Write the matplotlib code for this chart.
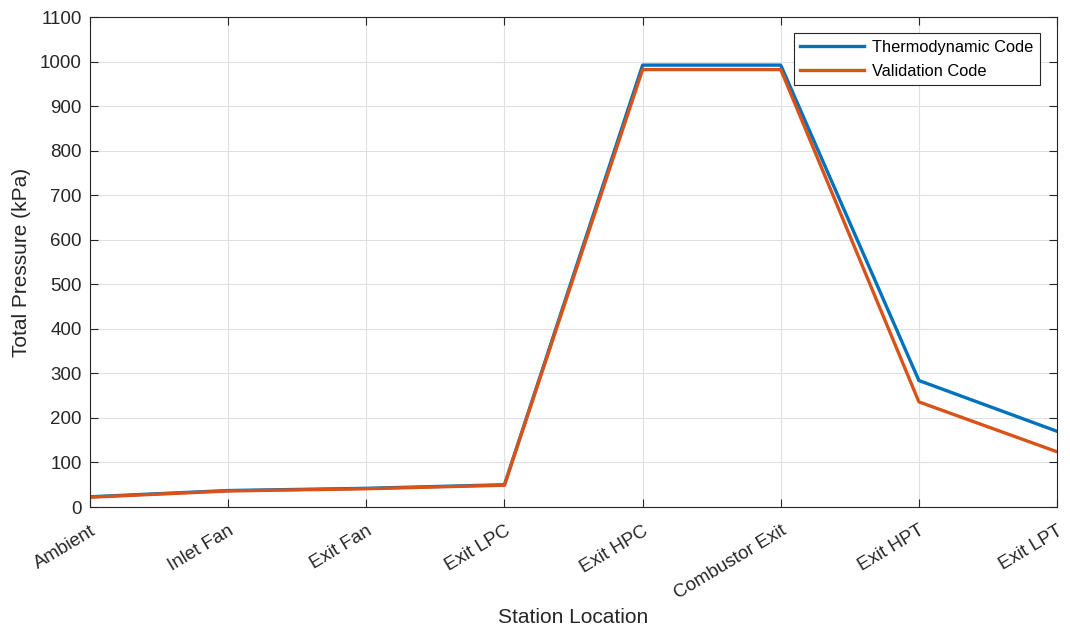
import matplotlib
matplotlib.use("Agg")
import matplotlib.pyplot as plt
import numpy as np

plt.rcParams['font.family'] = ['Liberation Sans', 'DejaVu Sans']

stations = ["Ambient", "Inlet Fan", "Exit Fan", "Exit LPC", "Exit HPC",
            "Combustor Exit", "Exit HPT", "Exit LPT"]
thermo = [23, 37, 42, 50, 992, 992, 284, 170]
valid = [22, 36, 41, 49, 982, 982, 236, 124]

fig = plt.figure(figsize=(10.7, 6.3), dpi=100)
ax = fig.add_axes([0.0841, 0.1952, 0.9038, 0.7778])

x = np.arange(len(stations))
ax.plot(x, thermo, color=(0, 0.447, 0.741), lw=2.4, label="Thermodynamic Code")
ax.plot(x, valid, color=(0.85, 0.325, 0.098), lw=2.4, label="Validation Code")

ax.set_xlim(0, len(stations) - 1)
ax.set_ylim(0, 1100)
ax.set_yticks(np.arange(0, 1101, 100))
ax.set_xticks(x)
ax.set_xticklabels(stations, rotation=31, ha='right', va='top',
                   rotation_mode='anchor', fontsize=13.5)
ax.tick_params(axis='y', labelsize=13.5, pad=6)
ax.tick_params(axis='x', pad=11)
ax.tick_params(direction='in', top=True, right=True, length=6, color='#262626', labelcolor='#262626')
ax.grid(True, color='#e0e0e0', lw=0.8)
ax.set_axisbelow(True)
for s in ax.spines.values():
    s.set_color('#262626')
    s.set_linewidth(0.8)

ax.set_xlabel("Station Location", fontsize=15, color='#262626', labelpad=4)
ax.set_ylabel("Total Pressure (kPa)", fontsize=15, color='#262626', labelpad=6)

leg = ax.legend(loc='upper right', bbox_to_anchor=(0.9825, 0.967), fontsize=11.8,
                fancybox=False, edgecolor='#262626', framealpha=1,
                handlelength=3.9, handletextpad=0.5, borderpad=0.4, labelspacing=0.55,
                borderaxespad=0)
leg.get_frame().set_linewidth(0.8)

fig.savefig("out.png", dpi=100)
